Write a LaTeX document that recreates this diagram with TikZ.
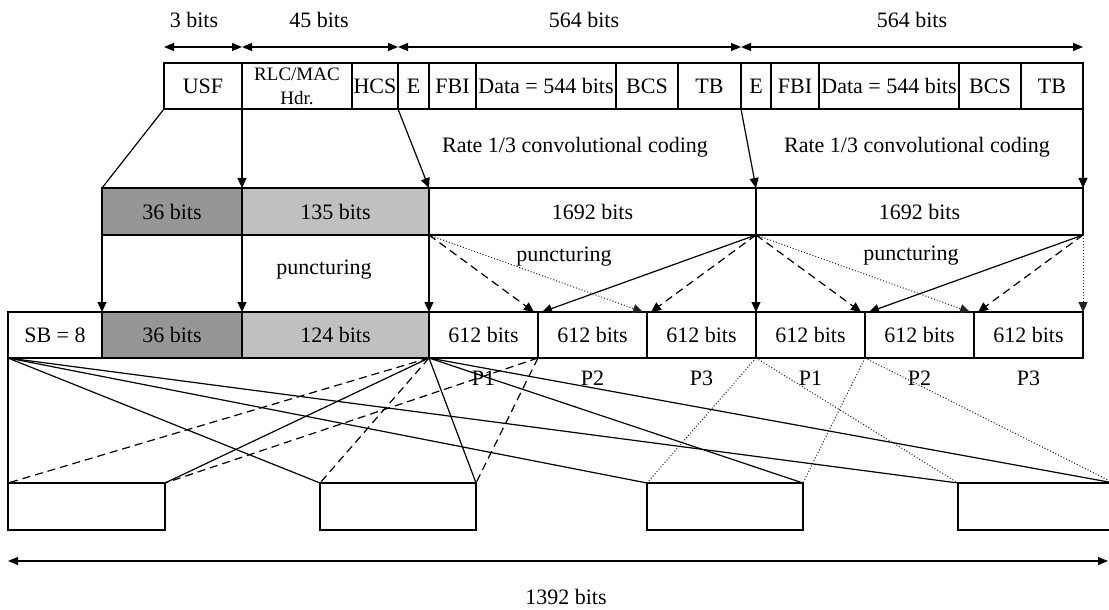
\documentclass[tikz,border=0pt]{standalone}
\usepackage{fontspec}
\setmainfont{Liberation Serif}
\usetikzlibrary{arrows.meta}
\definecolor{darkfill}{HTML}{969696}
\definecolor{lightfill}{HTML}{C0C0C0}
\definecolor{dotgray}{HTML}{222222}
\begin{document}
\begin{tikzpicture}[x=0.5pt,y=-0.5pt,
  every node/.style={font=\fontsize{11}{13}\selectfont},
  cell/.style={draw,line width=0.6pt,inner sep=0pt,outer sep=0pt},
  toprow/.style={cell,minimum height=23pt},
  midrow/.style={cell,minimum height=23.5pt},
  botrow/.style={cell,minimum height=23pt},
  burst/.style={cell,minimum height=23.5pt,minimum width=78pt},
  part/.style={botrow,minimum width=54.5pt},
  darkcell/.style={fill=darkfill},
  lightcell/.style={fill=lightfill},
  plain/.style={line width=0.6pt},
  arr/.style={line width=0.6pt,-{Triangle[length=5pt,width=4.5pt]}},
  dimarr/.style={line width=0.6pt,{Triangle[length=5pt,width=4pt]}-{Triangle[length=5pt,width=4pt]}},
  dsh/.style={dash pattern=on 4pt off 2.5pt},
  dts/.style={dash pattern=on 0.5pt off 1pt,line width=0.5pt,draw=dotgray},
  lbl/.style={inner sep=0pt},
  small/.style={font=\fontsize{9.5}{12}\selectfont}
]
\useasboundingbox (0,0) rectangle (1109,610);

% ---------- top row ----------
\node[toprow,minimum width=39pt] (usf) at (203,86) {USF};
\node[toprow,minimum width=55pt,small,align=center] (rlc) at (297,86) {RLC/MAC\\Hdr.};
\node[toprow,minimum width=23pt] (hcs) at (375,86) {HCS};
\node[toprow,minimum width=15.5pt] (e1) at (413.5,86) {E};
\node[toprow,minimum width=23.5pt] (fbi1) at (452.5,86) {FBI};
\node[toprow,minimum width=70pt] (data1) at (546,86) {Data = 544 bits};
\node[toprow,minimum width=31pt] (bcs1) at (647,86) {BCS};
\node[toprow,minimum width=31.5pt] (tb1) at (709.5,86) {TB};
\node[toprow,minimum width=15pt] (e2) at (756,86) {E};
\node[toprow,minimum width=24pt] (fbi2) at (795,86) {FBI};
\node[toprow,minimum width=70pt] (data2) at (889,86) {Data = 544 bits};
\node[toprow,minimum width=31pt] (bcs2) at (990,86) {BCS};
\node[toprow,minimum width=31pt] (tb2) at (1052,86) {TB};

% dimension arrows
\coordinate (d0) at (164,47);
\coordinate (d1) at (242,47);
\coordinate (d2) at (398,47);
\coordinate (d3) at (741,47);
\coordinate (d4) at (1083,47);
\draw[dimarr] (d0) -- (d1);
\draw[dimarr] (d1) -- (d2);
\draw[dimarr] (d2) -- (d3);
\draw[dimarr] (d3) -- (d4);
\node[lbl] (t3) at (194,20) {3 bits};
\node[lbl] (t45) at (319,20) {45 bits};
\node[lbl] (t564a) at (584,20) {564 bits};
\node[lbl] (t564b) at (912,20) {564 bits};

% ---------- coded row ----------
\node[midrow,darkcell,minimum width=70pt] (m36) at (172,211.5) {36 bits};
\node[midrow,lightcell,minimum width=93.5pt] (m135) at (335.5,211.5) {135 bits};
\node[midrow,minimum width=163.5pt] (m1692a) at (592.5,211.5) {1692 bits};
\node[midrow,minimum width=163.5pt] (m1692b) at (919.5,211.5) {1692 bits};

\node[lbl] (rate1) at (575,147) {Rate 1/3 convolutional coding};
\node[lbl] (rate2) at (917,147) {Rate 1/3 convolutional coding};

\draw[plain] (usf.south west) -- (m36.north west);
\draw[arr] (rlc.south west) -- (m135.north west);
\draw[arr] (hcs.south east) -- (m1692a.north west);
\draw[arr] (tb1.south east) -- (m1692b.north west);
\draw[arr] (tb2.south east) -- (m1692b.north east);

% ---------- punctured row ----------
\node[botrow,minimum width=47pt] (sb) at (55,335) {SB = 8};
\node[botrow,darkcell,minimum width=70pt] (b36) at (172,335) {36 bits};
\node[botrow,lightcell,minimum width=93.5pt] (b124) at (335.5,335) {124 bits};
\node[part] (p1a) at (483.5,335) {612 bits};
\node[part] (p2a) at (592.5,335) {612 bits};
\node[part] (p3a) at (701.5,335) {612 bits};
\node[part] (p1b) at (810.5,335) {612 bits};
\node[part] (p2b) at (919.5,335) {612 bits};
\node[part] (p3b) at (1028.5,335) {612 bits};

\node[lbl] (punc1) at (324,270) {puncturing};
\node[lbl] (punc2) at (564,257) {puncturing};
\node[lbl] (punc3) at (911,256) {puncturing};

\draw[arr] (m36.south west) -- (b36.north west);
\draw[arr] (m135.south west) -- (b124.north west);
\draw[arr] (m135.south east) -- (p1a.north west);
\draw[arr] (m1692a.south east) -- (p1b.north west);

% puncturing, first block
\draw[arr,dsh] (m1692a.south west) -- ([xshift=-2pt]p1a.north east);
\draw[arr,dts] (m1692a.south west) -- ([xshift=-2pt]p2a.north east);
\draw[arr] (m1692a.south east) -- ([xshift=2pt]p1a.north east);
\draw[arr,dsh] (m1692a.south east) -- ([xshift=2pt]p2a.north east);
% puncturing, second block
\draw[arr,dsh] (m1692b.south west) -- ([xshift=-2pt]p1b.north east);
\draw[arr,dts] (m1692b.south west) -- ([xshift=-2pt]p2b.north east);
\draw[arr] (m1692b.south east) -- ([xshift=2pt]p1b.north east);
\draw[arr,dsh] (m1692b.south east) -- ([xshift=2pt]p2b.north east);
\draw[arr,dts] (m1692b.south east) -- (p3b.north east);

% part labels
\node[lbl] (l1a) at ([yshift=-10pt]p1a.south) {P1};
\node[lbl] (l2a) at ([yshift=-10pt]p2a.south) {P2};
\node[lbl] (l3a) at ([yshift=-10pt]p3a.south) {P3};
\node[lbl] (l1b) at ([yshift=-10pt]p1b.south) {P1};
\node[lbl] (l2b) at ([yshift=-10pt]p2b.south) {P2};
\node[lbl] (l3b) at ([yshift=-10pt]p3b.south) {P3};

% ---------- bursts ----------
\node[burst,minimum width=78.5pt] (bu1) at (86.5,506.5) {};
\node[burst] (bu2) at (398,506.5) {};
\node[burst] (bu3) at (725,506.5) {};
\node[burst] (bu4) at (1036,506.5) {};

% interleaving: header bits
\draw[plain] (sb.south west) -- (bu1.north west);
\draw[plain] (sb.south west) -- (bu2.north west);
\draw[plain] (sb.south west) -- (bu3.north west);
\draw[plain] (sb.south west) -- (bu4.north west);
\draw[plain] (b124.south east) -- (bu1.north east);
\draw[plain] (b124.south east) -- (bu2.north east);
\draw[plain] (b124.south east) -- (bu3.north east);
\draw[plain] (b124.south east) -- (bu4.north east);
% first P1
\draw[plain,dsh] (p1a.south west) -- (bu1.north west);
\draw[plain,dsh] (p1a.south west) -- (bu2.north west);
\draw[plain,dsh] (p1a.south east) -- (bu1.north east);
\draw[plain,dsh] (p1a.south east) -- (bu2.north east);
% second P1
\draw[dts] (p1b.south west) -- (bu3.north west);
\draw[dts] (p1b.south west) -- (bu4.north west);
\draw[dts] (p1b.south east) -- (bu3.north east);
\draw[dts] (p1b.south east) -- (bu4.north east);

% total length
\coordinate (la) at (8,561);
\coordinate (lb) at (1108,561);
\draw[dimarr] (la) -- (lb);
\node[lbl] (t1392) at (566,597) {1392 bits};
\end{tikzpicture}
\end{document}
